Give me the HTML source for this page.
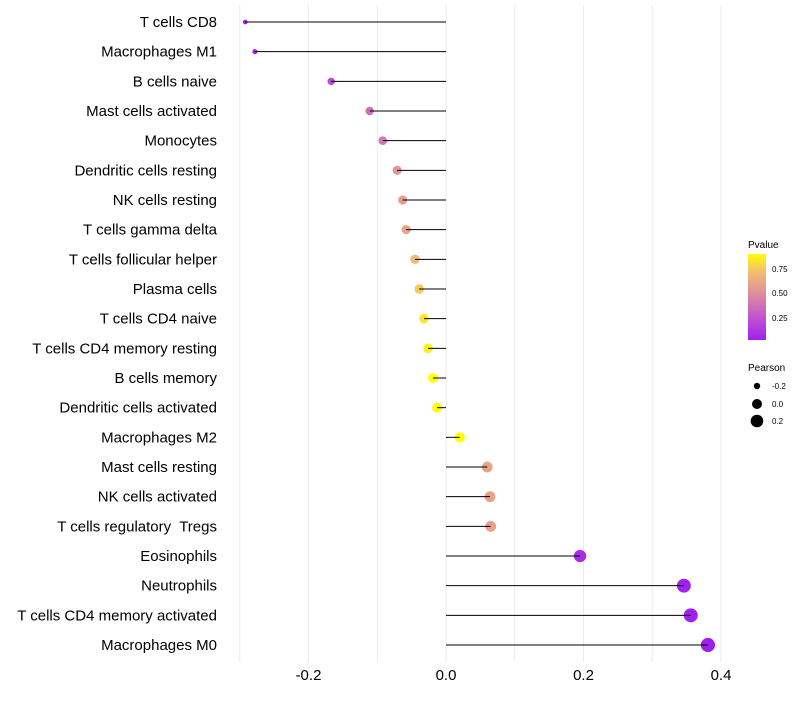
<!DOCTYPE html>
<html><head><meta charset="utf-8"><style>
body{margin:0;background:#fff;font-family:"Liberation Sans",sans-serif}
text{white-space:pre}
</style></head><body>
<svg id="chart" width="800" height="700" xmlns="http://www.w3.org/2000/svg" font-family="Liberation Sans, sans-serif">
<defs><linearGradient id="pg" x1="0" y1="1" x2="0" y2="0">
<stop offset="0" stop-color="#a020f0"/><stop offset="0.3" stop-color="#c65cc8"/><stop offset="0.55" stop-color="#e0909a"/><stop offset="0.8" stop-color="#f2c070"/><stop offset="1" stop-color="#ffff00"/>
</linearGradient></defs>
<g id="grid"></g>
<g id="marks"></g>
<g id="ylabels"></g>
<g id="xlabels"></g>
<g>
<text x="748" y="248" font-size="10" fill="#000">Pvalue</text>
<rect x="748" y="254" width="18" height="86" fill="url(#pg)"/>
<text x="772" y="272" font-size="8">0.75</text>
<text x="772" y="296" font-size="8">0.50</text>
<text x="772" y="321" font-size="8">0.25</text>
</g>
<g>
<text x="748" y="371" font-size="10">Pearson</text>
<circle cx="757" cy="386" r="3.2" fill="#000"/><text x="772" y="389" font-size="8">-0.2</text>
<circle cx="757" cy="404" r="5" fill="#000"/><text x="772" y="407" font-size="8">0.0</text>
<circle cx="757" cy="421" r="6.3" fill="#000"/><text x="772" y="424" font-size="8">0.2</text>
</g>
</svg>
<script>
const cells=["T cells CD8","Macrophages M1","B cells naive","Mast cells activated","Monocytes","Dendritic cells resting","NK cells resting","T cells gamma delta","T cells follicular helper","Plasma cells","T cells CD4 naive","T cells CD4 memory resting","B cells memory","Dendritic cells activated","Macrophages M2","Mast cells resting","NK cells activated","T cells regulatory  Tregs","Eosinophils","Neutrophils","T cells CD4 memory activated","Macrophages M0"];
const pearson=[-0.292,-0.278,-0.167,-0.111,-0.092,-0.071,-0.063,-0.058,-0.045,-0.039,-0.032,-0.026,-0.019,-0.013,0.020,0.060,0.064,0.065,0.195,0.346,0.356,0.381];
const pvalue=[0.02,0.03,0.2,0.36,0.4,0.52,0.56,0.6,0.7,0.75,0.82,0.85,0.9,0.93,0.9,0.6,0.58,0.58,0.08,0.02,0.015,0.015];
const xTicks=[-0.2,0,0.2,0.4];
const xTickLabels=["-0.2","0.0","0.2","0.4"];
const gridVals=[-0.3,-0.2,-0.1,0,0.1,0.2,0.3,0.4];
const NS="http://www.w3.org/2000/svg";
const x=v=>446+v*687.5;
const y=i=>22+i*29.667;
const stops=[[0,[160,32,240]],[0.3,[198,92,200]],[0.55,[224,144,154]],[0.8,[242,192,112]],[1,[255,255,0]]];
function col(p){let t=(p-0.015)/(0.893-0.015);t=Math.max(0,Math.min(1,t));
for(let k=1;k<stops.length;k++){if(t<=stops[k][0]){const a=stops[k-1],b=stops[k],f=(t-a[0])/(b[0]-a[0]);return "rgb("+a[1].map((c,j)=>Math.round(c+(b[1][j]-c)*f)).join(",")+")";}}return "#ff0";}
const r=v=>Math.sqrt(Math.max(4,25+67*v));
function mk(tag,at,parent){const e=document.createElementNS(NS,tag);for(const k in at)e.setAttribute(k,at[k]);document.getElementById(parent).appendChild(e);return e;}
gridVals.forEach(g=>{const l=mk("line",{x1:x(g),x2:x(g),y1:5,y2:662,stroke:"#ebebeb","stroke-width":1},"grid");

});
cells.forEach((c,i)=>{
const d=mk("circle",{cx:x(pearson[i]),cy:y(i),r:r(pearson[i]),fill:col(pvalue[i])},"marks");


const l=mk("line",{x1:x(0),x2:x(pearson[i]),y1:y(i),y2:y(i),stroke:"#000","stroke-width":1},"marks");


const t=mk("text",{x:217,y:y(i)+5,"text-anchor":"end","font-size":15,fill:"#000"},"ylabels");
t.textContent=c;


});
xTicks.forEach((v,i)=>{const t=mk("text",{x:x(v),y:680,"text-anchor":"middle","font-size":15,fill:"#000"},"xlabels");
t.textContent=xTickLabels[i];

});
</script>
</body></html>
